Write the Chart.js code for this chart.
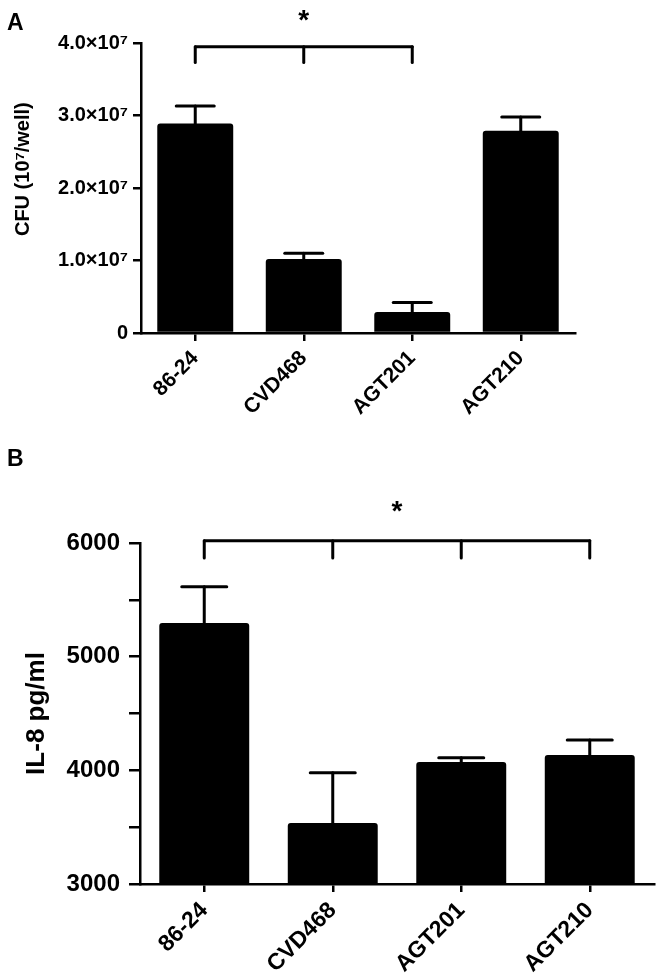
<!DOCTYPE html>
<html>
<head>
<meta charset="utf-8">
<script src="https://cdn.jsdelivr.net/npm/chart.js@4"></script>
<style>
body { margin: 0; background: #fff; width: 661px; height: 976px; position: relative; overflow: hidden; font-family: "Liberation Sans", Arial, sans-serif; }
.box { position: absolute; left: 0; width: 661px; }
#boxA { top: 0; height: 440px; }
#boxB { top: 440px; height: 536px; }
.tag { position: absolute; font-weight: bold; font-size: 23px; line-height: 24px; z-index: 2; }
</style>
</head>
<body>
<div class="box" id="boxA"><canvas id="chartA"></canvas></div>
<div class="box" id="boxB"><canvas id="chartB"></canvas></div>
<div class="tag" style="left:7px;top:10px">A</div>
<div class="tag" style="left:7px;top:446px">B</div>
<script>
// data
var strains = ['86-24', 'CVD468', 'AGT201', 'AGT210'];
var cfuMean = [2.89e7, 1.02e7, 0.29e7, 2.79e7];
var cfuErr = [0.24e7, 0.08e7, 0.13e7, 0.19e7];
var il8Mean = [5296, 3537, 4073, 4135];
var il8Err = [320, 442, 38, 132];

var FONT = '"Liberation Sans", Arial, sans-serif';

// error bars, significance bracket and the y title
var extrasPlugin = {
    id: 'extras',
    afterDatasetsDraw: function (chart, args, opts) {
        var ctx = chart.ctx;
        var xs = chart.scales.x;
        var ys = chart.scales.y;
        var meta = chart.getDatasetMeta(0);

        function line(x1, y1, x2, y2) {
            ctx.beginPath();
            ctx.moveTo(x1, y1);
            ctx.lineTo(x2, y2);
            ctx.stroke();
        }

        ctx.save();
        ctx.strokeStyle = '#000';
        ctx.fillStyle = '#000';
        ctx.lineWidth = 3;
        ctx.lineCap = 'round';

        meta.data.forEach(function (bar, i) {
            var top = ys.getPixelForValue(opts.mean[i] + opts.err[i]);
            var half = bar.width * 0.25;
            line(bar.x, bar.y, bar.x, top);
            line(bar.x - half, top, bar.x + half, top);
        });

        var b = opts.bracket;
        var yb = ys.getPixelForValue(b.y);
        var yt = ys.getPixelForValue(b.tickEnd);
        var x0 = xs.getPixelForValue(b.points[0]);
        var x1 = xs.getPixelForValue(b.points[b.points.length - 1]);
        line(x0, yb, x1, yb);
        b.points.forEach(function (p) {
            var x = xs.getPixelForValue(p);
            line(x, yb, x, yt);
        });
        ctx.font = 'bold 28px ' + FONT;
        ctx.textAlign = 'center';
        ctx.textBaseline = 'alphabetic';
        ctx.fillText('*', (x0 + x1) / 2, ys.getPixelForValue(b.star) + 15);

        var t = opts.title;
        ctx.translate(t.x, ys.getPixelForValue(t.center));
        ctx.rotate(-Math.PI / 2);
        ctx.font = 'bold ' + t.size + 'px ' + FONT;
        ctx.textBaseline = 'middle';
        ctx.fillText(t.text, 0, 0);
        ctx.restore();
    }
};

function makeChart(id, means, cfg) {
    var ctx = document.getElementById(id).getContext('2d');
    return new Chart(ctx, {
        type: 'bar',
        data: {
            labels: strains,
            datasets: [{
                data: means,
                backgroundColor: '#000',
                borderRadius: 3,
                barPercentage: 0.7,
                categoryPercentage: 1.0
            }]
        },
        options: {
            responsive: true,
            maintainAspectRatio: false,
            animation: false,
            layout: { padding: cfg.padding },
            plugins: {
                legend: { display: false },
                tooltip: { enabled: false },
                extras: cfg.extras
            },
            scales: {
                x: {
                    grid: { offset: false, drawOnChartArea: false, color: '#000', lineWidth: 2.5, tickLength: 8 },
                    border: { color: '#000', width: 2.5 },
                    ticks: {
                        color: '#000',
                        font: { family: FONT, weight: 'bold', size: cfg.xFont },
                        minRotation: 45,
                        maxRotation: 45,
                        padding: 5
                    },
                    afterFit: function (scale) { scale.height = cfg.xHeight; }
                },
                y: {
                    min: cfg.min,
                    max: cfg.max,
                    grid: { drawOnChartArea: false, color: '#000', lineWidth: 2.5, tickLength: cfg.tickLen },
                    border: { color: '#000', width: 2.5 },
                    ticks: {
                        stepSize: cfg.step,
                        color: '#000',
                        padding: cfg.tickPad,
                        font: { family: FONT, weight: 'bold', size: cfg.yFont },
                        callback: cfg.fmt
                    },
                    afterFit: function (scale) { scale.width = cfg.yWidth; }
                }
            }
        },
        plugins: [extrasPlugin]
    });
}

makeChart('chartA', cfuMean, {
    padding: { top: 43, right: 86, bottom: 0, left: 0 },
    min: 0, max: 4e7, step: 1e7,
    xFont: 21, yFont: 20, xHeight: 107, yWidth: 141, tickLen: 8, tickPad: 5,
    fmt: function (v) { return v === 0 ? '0' : (v / 1e7).toFixed(1) + '×10⁷'; },
    extras: {
        mean: cfuMean,
        err: cfuErr,
        bracket: { points: [0, 1, 2], y: 3.95e7, tickEnd: 3.73e7, star: 4.4e7 },
        title: { text: 'CFU (10⁷/well)', x: 23, center: 2.26e7, size: 20 }
    }
});

makeChart('chartB', il8Mean, {
    padding: { top: 103, right: 7, bottom: 0, left: 0 },
    min: 3000, max: 6000, step: 250,
    xFont: 23, yFont: 24, xHeight: 92, yWidth: 140, tickLen: 11, tickPad: 9,
    fmt: function (v) { return v % 1000 === 0 ? String(v) : ''; },
    extras: {
        mean: il8Mean,
        err: il8Err,
        bracket: { points: [0, 1, 2, 3], y: 6020, tickEnd: 5868, star: 6334 },
        title: { text: 'IL-8 pg/ml', x: 37, center: 4500, size: 26 }
    }
});
</script>
</body>
</html>
